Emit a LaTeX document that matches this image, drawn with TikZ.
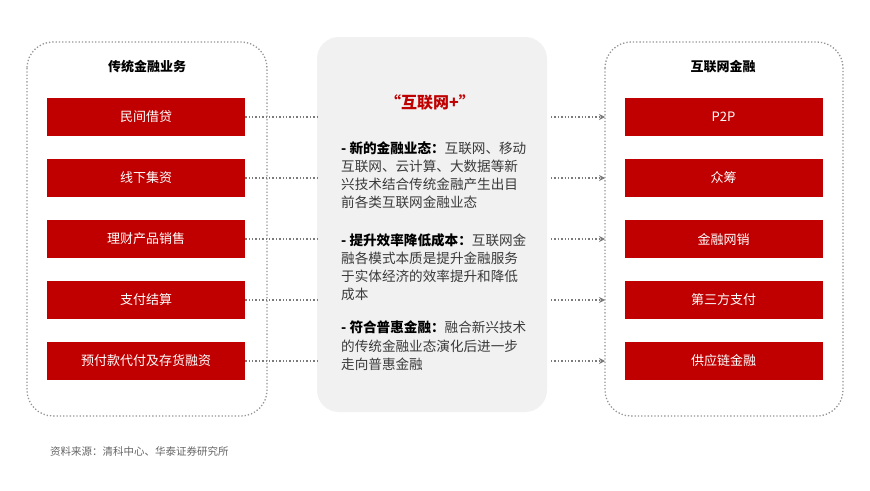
\documentclass[tikz,border=0pt]{standalone}
\usepackage{fontspec}
\setmainfont{Noto Sans CJK SC}
\usetikzlibrary{arrows.meta}
\definecolor{hred}{HTML}{C00000}
\definecolor{dotgray}{HTML}{7A7A7A}
\definecolor{panel}{HTML}{F1F1F1}
\definecolor{txt}{HTML}{3A3A3A}
\tikzset{
  redbox/.style={fill=hred, draw=none, minimum width=198pt, minimum height=38pt, text=white, font=\fontsize{13}{15}\selectfont, inner sep=0pt},
  group/.style={draw=dotgray!80, dotted, line width=1.3pt, rounded corners=26pt},
  link/.style={draw=dotgray, dotted, line width=1.4pt},
  linkarrow/.style={link, -{Stealth[length=6pt,width=6pt]}},
  heading/.style={font=\bfseries\fontsize{13}{15}\selectfont, text=black},
  para/.style={anchor=north west, align=left, text=txt, inner sep=0pt, font=\fontsize{13.6}{18.3}\selectfont},
}
\begin{document}
\begin{tikzpicture}[x=1pt,y=-1pt]
\useasboundingbox (0,0) rectangle (870,490);
\fill[white] (0,0) rectangle (870,490);
% groups
\draw[group] (27,42) rectangle (267,416);
\draw[group] (605,42) rectangle (843,416);
\fill[panel, rounded corners=22pt] (317,37) rectangle (547,412);
% headings
\node[heading] (lt) at (147,67) {传统金融业务};
\node[heading] (rt) at (723,67) {互联网金融};
\node[font=\bfseries\fontsize{16}{18}\selectfont, text=hred] (ct) at (430,102) {“互联网+”};
% left boxes
\node[redbox] (l1) at (146,117) {民间借贷};
\node[redbox] (l2) at (146,178) {线下集资};
\node[redbox] (l3) at (146,239) {理财产品销售};
\node[redbox] (l4) at (146,300) {支付结算};
\node[redbox] (l5) at (146,361) {预付款代付及存货融资};
% right boxes
\node[redbox] (r1) at (723.5,117) {P2P};
\node[redbox] (r2) at (723.5,178) {众筹};
\node[redbox] (r3) at (723.5,239) {金融网销};
\node[redbox] (r4) at (723.5,300) {第三方支付};
\node[redbox] (r5) at (723.5,361) {供应链金融};
% centre text
\node[para] (p1) at (341,141) {\textbf{\color{black}- 新的金融业态：}互联网、移动\\互联网、云计算、大数据等新\\兴技术结合传统金融产生出目\\前各类互联网金融业态};
\node[para] (p2) at (341,233) {\textbf{\color{black}- 提升效率降低成本：}互联网金\\融各模式本质是提升金融服务\\于实体经济的效率提升和降低\\成本};
\node[para] (p3) at (341,321) {\textbf{\color{black}- 符合普惠金融：}融合新兴技术\\的传统金融业态演化后进一步\\走向普惠金融};
% connectors
\foreach \i in {1,...,5}{
  \coordinate (cl\i) at (317,0 |- l\i.east);
  \coordinate (cr\i) at (551,0 |- r\i.west);
  \coordinate (ge\i) at (605,0 |- r\i.west);
  \draw[link] (l\i.east) -- (cl\i);
  \draw[linkarrow] (cr\i) -- (ge\i);
}
% source
\node[anchor=west, text=black!60, font=\fontsize{10.5}{12}\selectfont, inner sep=0pt] (src) at (50,451) {资料来源：清科中心、华泰证券研究所};
\end{tikzpicture}
\end{document}
